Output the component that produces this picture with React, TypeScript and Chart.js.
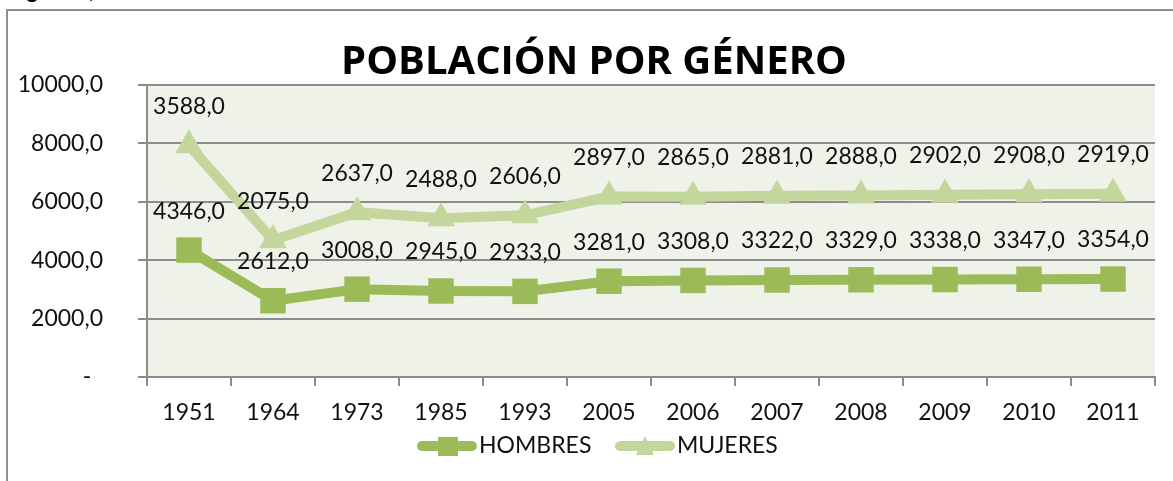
import React, { useEffect, useRef } from "react";
import { Chart, registerables } from "chart.js";

Chart.register(...registerables);

const categories = ["1951", "1964", "1973", "1985", "1993", "2005", "2006", "2007", "2008", "2009", "2010", "2011"];
const hombres = [4346, 2612, 3008, 2945, 2933, 3281, 3308, 3322, 3329, 3338, 3347, 3354];
const mujeres = [3588, 2075, 2637, 2488, 2606, 2897, 2865, 2881, 2888, 2902, 2908, 2919];
const seriesNames = ["HOMBRES", "MUJERES"];
const titleText = "POBLACIÓN POR GÉNERO";
const yMin = 0;
const yMax = 10000;
const yStep = 2000;

const C_H = "#9BBB59";
const C_M = "#C3D69B";
const GRID = "#8c8c8c";
const FONT = "Lato, 'Open Sans', sans-serif";
const TITLE_FONT = "'Open Sans', Lato, sans-serif";

const fmt = (v: number) => v.toFixed(1).replace(".", ",");

export default function App() {
  const ref = useRef<HTMLCanvasElement>(null);

  useEffect(() => {
    const canvas = ref.current;
    if (!canvas) return;

    const bgPlugin = {
      id: "plotBg",
      beforeDraw(chart: any) {
        const { ctx, chartArea } = chart;
        ctx.save();
        ctx.fillStyle = "#EEF2E8";
        ctx.fillRect(chartArea.left, chartArea.top, chartArea.right - chartArea.left, chartArea.bottom - chartArea.top);
        ctx.restore();
      },
    };

    const labelPlugin = {
      id: "valueLabels",
      afterDatasetsDraw(chart: any) {
        const { ctx } = chart;
        ctx.save();
        ctx.font = `23px ${FONT}`;
        ctx.fillStyle = "#111";
        ctx.textAlign = "center";
        ctx.textBaseline = "middle";
        chart.data.datasets.forEach((ds: any, i: number) => {
          const meta = chart.getDatasetMeta(i);
          meta.data.forEach((pt: any, j: number) => {
            ctx.fillText(fmt(ds.data[j]), pt.x, pt.y - 39);
          });
        });
        ctx.restore();
      },
    };

    const titlePlugin = {
      id: "titleText",
      afterDraw(chart: any) {
        const { ctx, chartArea } = chart;
        ctx.save();
        ctx.font = `bold 40px ${TITLE_FONT}`;
        ctx.fillStyle = "#000";
        ctx.textAlign = "center";
        ctx.textBaseline = "alphabetic";
        ctx.fillText(titleText, 594, chartArea.top - 11);
        ctx.restore();
      },
    };

    const legendPlugin = {
      id: "customLegend",
      afterDraw(chart: any) {
        const { ctx } = chart;
        const y = 446;
        ctx.save();
        ctx.lineCap = "round";
        ctx.strokeStyle = C_H;
        ctx.lineWidth = 10;
        ctx.beginPath();
        ctx.moveTo(422, y);
        ctx.lineTo(472, y);
        ctx.stroke();
        ctx.fillStyle = C_H;
        ctx.fillRect(438, y - 9, 20, 19);
        ctx.strokeStyle = C_M;
        ctx.beginPath();
        ctx.moveTo(620, y);
        ctx.lineTo(670, y);
        ctx.stroke();
        ctx.fillStyle = C_M;
        ctx.beginPath();
        ctx.moveTo(645, y - 10);
        ctx.lineTo(654, y + 9);
        ctx.lineTo(636, y + 9);
        ctx.closePath();
        ctx.fill();
        ctx.font = `23px ${FONT}`;
        ctx.fillStyle = "#111";
        ctx.textAlign = "left";
        ctx.textBaseline = "middle";
        ctx.fillText(seriesNames[0], 479, y);
        ctx.fillText(seriesNames[1], 677, y);
        ctx.restore();
      },
    };

    const chart = new Chart(canvas, {
      type: "line",
      data: {
        labels: categories,
        datasets: [
          {
            label: seriesNames[0],
            data: hombres,
            borderColor: C_H,
            backgroundColor: C_H,
            borderWidth: 10,
            pointStyle: "rect",
            pointRadius: 18,
            pointBorderWidth: 0,
            pointBackgroundColor: C_H,
            fill: false,
            tension: 0,
          },
          {
            label: seriesNames[1],
            data: mujeres,
            borderColor: C_M,
            backgroundColor: C_M,
            borderWidth: 10,
            pointStyle: "triangle",
            pointRadius: 16,
            pointBorderWidth: 0,
            pointBackgroundColor: C_M,
            fill: false,
            tension: 0,
          },
        ],
      },
      options: {
        responsive: false,
        animation: false,
        devicePixelRatio: 1,
        layout: { padding: { left: 0, right: 7, top: 85, bottom: 50 } },
        plugins: {
          legend: { display: false },
          tooltip: { enabled: false },
          title: { display: false },
        },
        scales: {
          x: {
            offset: true,
            grid: {
              offset: true,
              drawOnChartArea: false,
              drawTicks: true,
              tickLength: 9,
              color: GRID,
              lineWidth: 2,
            },
            border: { display: true, color: GRID, width: 2 },
            ticks: {
              color: "#111",
              font: { family: FONT, size: 23 },
              padding: 13,
              maxRotation: 0,
              autoSkip: false,
            },
            afterFit(scale: any) {
              scale.height = 54;
            },
          },
          y: {
            stacked: true,
            min: yMin,
            max: yMax,
            grid: {
              color: GRID,
              lineWidth: 2,
              tickLength: 9,
              drawTicks: true,
            },
            border: { display: true, color: GRID, width: 2 },
            ticks: {
              stepSize: yStep,
              color: "#111",
              font: { family: FONT, size: 23 },
              padding: 35,
              callback: (v: any) => (Number(v) === 0 ? "-  " : fmt(Number(v))),
            },
            afterFit(scale: any) {
              scale.width = 147;
            },
          },
        },
      },
      plugins: [bgPlugin, labelPlugin, titlePlugin, legendPlugin],
    });

    return () => chart.destroy();
  }, []);

  return (
    <div
      style={{
        position: "fixed",
        left: 0,
        top: 0,
        width: 1173,
        height: 481,
        overflow: "hidden",
        background: "#fff",
      }}
    >
      <div
        style={{
          position: "absolute",
          left: 10,
          top: -22,
          fontFamily: FONT,
          fontWeight: "bold",
          fontStyle: "italic",
          fontSize: 23,
          lineHeight: "23px",
          whiteSpace: "nowrap",
          color: "#000",
        }}
      >
        Figura 3, Población
      </div>
      <div
        style={{
          position: "absolute",
          left: 6,
          top: 9,
          width: 1200,
          height: 500,
          border: "2px solid #8f8f8f",
          boxSizing: "border-box",
        }}
      />
      <canvas ref={ref} width={1173} height={481} style={{ position: "absolute", left: 0, top: 0 }} />
    </div>
  );
}
